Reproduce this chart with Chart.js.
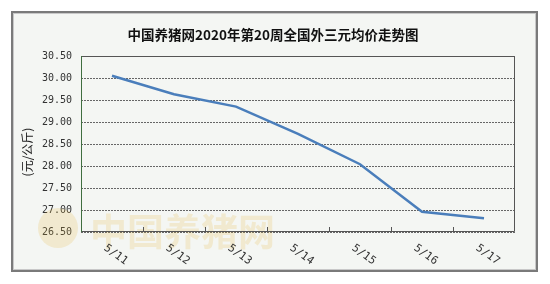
<!DOCTYPE html>
<html>
<head>
<meta charset="utf-8">
<script src="https://cdn.jsdelivr.net/npm/chart.js@4/dist/chart.umd.min.js"></script>
<style>
  html, body { margin: 0; padding: 0; background: #ffffff; }
  #wrap { width: 550px; height: 284px; }
</style>
</head>
<body>
<div id="wrap"><canvas id="grafico" width="550" height="284"></canvas></div>
<script>
// Datos del gráfico
const fechas = ['5/11', '5/12', '5/13', '5/14', '5/15', '5/16', '5/17'];
const precios = [30.05, 29.63, 29.35, 28.73, 28.04, 26.96, 26.81];
const titulo = '中国养猪网2020年第20周全国外三元均价走势图';
const tituloEje = '(元/公斤)';
const marcaAgua = '中国养猪网';

// Plugin para marco, títulos, etiquetas giradas y bordes
const decoracion = {
    id: 'decoracion',
    beforeDraw(chart) {
        const ctx = chart.ctx;
        ctx.save();
        ctx.fillStyle = '#ffffff';
        ctx.fillRect(0, 0, chart.width, chart.height);
        // marco exterior
        ctx.fillStyle = '#f4f6f3';
        ctx.fillRect(11, 11, 527, 261);
        ctx.strokeStyle = '#7a7a7a';
        ctx.lineWidth = 2;
        ctx.strokeRect(12, 12, 525, 259);
        ctx.strokeStyle = '#c8c8c8';
        ctx.lineWidth = 1;
        ctx.strokeRect(13.5, 13.5, 522, 256);
        ctx.restore();
    },
    beforeDatasetsDraw(chart) {
        const ctx = chart.ctx;
        // marca de agua
        ctx.save();
        ctx.globalAlpha = 0.2;
        ctx.fillStyle = '#e8b840';
        ctx.beginPath();
        ctx.arc(58, 228, 20, 0, Math.PI * 2);
        ctx.fill();
        ctx.font = 'bold 37px "Noto Sans CJK SC"';
        ctx.textBaseline = 'middle';
        ctx.fillText(marcaAgua, 90, 232);
        ctx.restore();
    },
    afterDraw(chart) {
        const ctx = chart.ctx;
        const area = chart.chartArea;
        const x = chart.scales.x;
        ctx.save();
        // bordes del área de trazado
        ctx.lineWidth = 1;
        ctx.strokeStyle = '#555555';
        ctx.beginPath();
        ctx.moveTo(area.left, area.top + 0.5);
        ctx.lineTo(area.right - 0.5, area.top + 0.5);
        ctx.lineTo(area.right - 0.5, area.bottom - 0.5);
        ctx.lineTo(area.left, area.bottom - 0.5);
        ctx.stroke();
        ctx.strokeStyle = '#3f6e3f';
        ctx.beginPath();
        ctx.moveTo(area.left + 0.5, area.top);
        ctx.lineTo(area.left + 0.5, area.bottom);
        ctx.stroke();
        // marcas del eje x entre categorías
        ctx.strokeStyle = '#555555';
        const paso = (area.right - area.left) / fechas.length;
        for (let i = 1; i < fechas.length; i++) {
            const px = Math.round(area.left + paso * i) + 0.5;
            ctx.beginPath();
            ctx.moveTo(px, area.bottom);
            ctx.lineTo(px, area.bottom - 5);
            ctx.stroke();
        }
        // etiquetas del eje x giradas
        ctx.fillStyle = '#333333';
        ctx.font = '11px "DejaVu Sans Mono"';
        ctx.textAlign = 'left';
        ctx.textBaseline = 'middle';
        fechas.forEach((f, i) => {
            const px = x.getPixelForValue(i);
            ctx.save();
            ctx.translate(px - 7, area.bottom + 15);
            ctx.rotate(36 * Math.PI / 180);
            ctx.fillText(f, 0, 0);
            ctx.restore();
        });
        // título
        ctx.fillStyle = '#111111';
        ctx.font = 'bold 13.5px "Noto Sans CJK SC"';
        ctx.textAlign = 'center';
        ctx.fillText(titulo, 273, 35);
        // título del eje y
        ctx.save();
        ctx.translate(27, 152);
        ctx.rotate(-Math.PI / 2);
        ctx.font = '12px "Noto Sans CJK SC"';
        ctx.fillStyle = '#222222';
        ctx.fillText(tituloEje, 0, 0);
        ctx.restore();
        ctx.restore();
    }
};

const ctx = document.getElementById('grafico').getContext('2d');
new Chart(ctx, {
    type: 'line',
    data: {
        labels: fechas,
        datasets: [{
            data: precios,
            borderColor: '#4a7ebb',
            borderWidth: 2.5,
            pointRadius: 0,
            tension: 0,
            fill: false
        }]
    },
    options: {
        responsive: false,
        animation: false,
        events: [],
        layout: { padding: { top: 56, right: 35, left: 0, bottom: 0 } },
        plugins: {
            legend: { display: false },
            title: { display: false },
            tooltip: { enabled: false }
        },
        scales: {
            x: {
                type: 'category',
                offset: true,
                grid: { display: false },
                border: { display: false },
                ticks: { display: false },
                afterFit(scale) { scale.height = 52; }
            },
            y: {
                min: 26.5,
                max: 30.5,
                ticks: {
                    stepSize: 0.5,
                    padding: 9,
                    color: '#333333',
                    font: { family: '"DejaVu Sans Mono"', size: 10 },
                    callback: v => v.toFixed(2)
                },
                grid: { color: '#666666', drawTicks: false, lineWidth: 1 },
                border: { display: false, dash: [2, 1] },
                afterFit(scale) { scale.width = 81; }
            }
        }
    },
    plugins: [decoracion]
});
</script>
</body>
</html>
